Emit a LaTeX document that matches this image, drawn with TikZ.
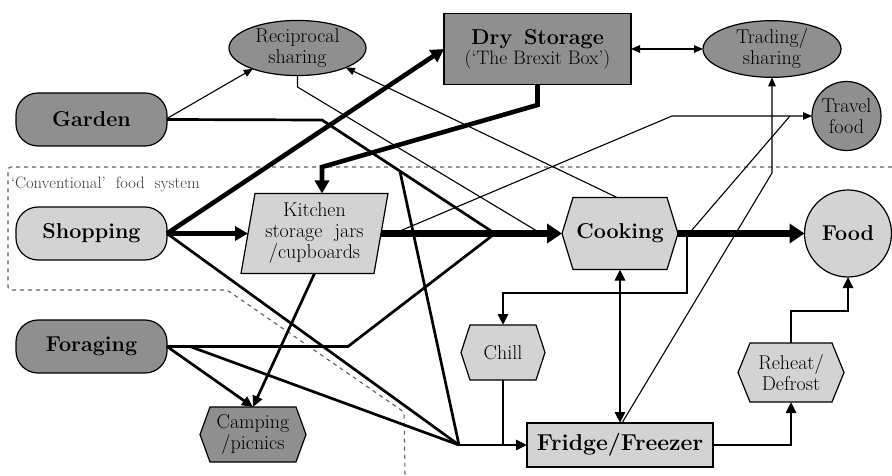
\documentclass[tikz,border=0pt]{standalone}
\usetikzlibrary{arrows.meta,shapes.geometric,backgrounds}
\definecolor{dk}{RGB}{143,143,143}
\definecolor{lt}{RGB}{211,211,211}
\definecolor{dashgrey}{RGB}{95,95,95}
\definecolor{labelgrey}{RGB}{60,60,60}
\newcommand\hexpoly[3]{\filldraw[fill=#2, draw=black, line width=1.2pt] (#1.west) -- ([xshift=#3]#1.north west) -- ([xshift=-#3]#1.north east) -- (#1.east) -- ([xshift=-#3]#1.south east) -- ([xshift=#3]#1.south west) -- cycle;}
\begin{document}
\begin{tikzpicture}[x=1pt,y=-1pt,
  every node/.style={outer sep=0pt, inner sep=0pt, text=black},
  bigtxt/.style={font=\fontsize{21.5}{24}\selectfont\bfseries, align=center},
  smtxt/.style={font=\fontsize{20}{21}\selectfont, align=center},
  rbox/.style={draw, line width=1.2pt, rounded corners=22pt, minimum width=151pt, minimum height=53pt, bigtxt},
  ell/.style={ellipse, draw, line width=1.2pt, fill=dk, smtxt},
  hexn/.style={smtxt},
  thinc/.style={line width=1.1pt},
  medc/.style={line width=2.7pt},
  thkc/.style={line width=4.6pt},
  vthk/.style={line width=7pt},
  ta/.style={-{Triangle[length=9pt,width=7.5pt]}},
  tab/.style={{Triangle[length=9pt,width=7.5pt]}-{Triangle[length=9pt,width=7.5pt]}},
  ma/.style={-{Triangle[length=11pt,width=10pt]}},
  mab/.style={{Triangle[length=11pt,width=10pt]}-{Triangle[length=11pt,width=10pt]}},
  ka/.style={-{Triangle[length=13pt,width=14pt]}},
  va/.style={-{Triangle[length=15pt,width=19pt]}}
]
\useasboundingbox (0,0) rectangle (892,476);

% boundary of the conventional food system
\draw[dashgrey, line width=1.1pt, dash pattern=on 4pt off 4pt, rounded corners=3pt]
  (892,167) -- (8,167) -- (8,290) -- (227,290) -- (404,412) -- (405,476);
\node[anchor=west, font=\fontsize{16.5}{18}\selectfont, text=labelgrey] (convlabel) at (11,184) {`Conventional'\ \ food\ \ system};

% nodes
\node[rbox, fill=dk] (garden) at (91.5,119.5) {Garden};
\node[rbox, fill=lt] (shop) at (91.5,233.5) {Shopping};
\node[rbox, fill=dk] (forage) at (91.5,346.5) {Foraging};
\node[ell, minimum width=137pt, minimum height=55pt] (recip) at (297.5,48) {Reciprocal\\sharing};
\node[draw, fill=dk, line width=1.2pt, minimum width=187pt, minimum height=71pt, align=center] (dry) at (537.5,49)
  {\fontsize{21.5}{26}\selectfont\bfseries Dry\, Storage\\\fontsize{19.5}{22}\selectfont\mdseries (`The Brexit Box')};
\node[ell, minimum width=138pt, minimum height=56pt] (trade) at (772,49) {Trading/\\sharing};
\node[circle, draw, fill=dk, line width=1.2pt, minimum size=69pt, font=\fontsize{20}{21}\selectfont, align=center] (travel) at (846.5,116) {Travel\\food};
\node[hexn, minimum width=133pt, minimum height=80pt] (kit) at (314.5,233.5) {Kitchen\\storage\ \ jars\\/cupboards};
\node[bigtxt, minimum width=116pt, minimum height=72pt] (cook) at (620,233.5) {Cooking};
\node[circle, draw, fill=lt, line width=1.2pt, minimum size=87pt, bigtxt] (food) at (848,233.5) {Food};
\node[hexn, minimum width=84pt, minimum height=55pt] (chill) at (503,352.5) {Chill};
\node[draw, fill=lt, line width=1.2pt, minimum width=186pt, minimum height=44pt, bigtxt, font=\fontsize{23}{25}\selectfont\bfseries] (fridge) at (620,445) {Fridge/Freezer};
\node[hexn, minimum width=106pt, minimum height=59pt] (reheat) at (791,372.5) {Reheat/\\Defrost};
\node[hexn, minimum width=106pt, minimum height=55pt] (camp) at (253,434.5) {Camping\\/picnics};

\begin{pgfonlayer}{background}
  \filldraw[fill=lt, draw=black, line width=1.2pt] ([xshift=-7pt]kit.south west) -- ([xshift=7pt]kit.north west) -- ([xshift=7pt]kit.north east) -- ([xshift=-7pt]kit.south east) -- cycle;
  \hexpoly{cook}{lt}{11pt}
  \hexpoly{chill}{lt}{9pt}
  \hexpoly{reheat}{lt}{12pt}
  \hexpoly{camp}{dk}{10pt}
\end{pgfonlayer}

% junctions and bends
\coordinate (gbend) at (322,120);
\coordinate (cmerge) at (495,233.5);
\coordinate (gsplit) at (400,171.5);
\coordinate (fjunc) at (459,445);
\coordinate (fbend) at (348,346.5);
\coordinate (fstart) at (190,346.5);
\coordinate (rbend) at (297.5,87);
\coordinate (rmerge) at (541,233.5);
\coordinate (dbend1) at (537.5,105);
\coordinate (dbend2) at (322,167);
\coordinate (kitdrop) at (322,193.5);
\coordinate (ktstart) at (394,233.5);
\coordinate (ktbend) at (672,116);
\coordinate (ctstart) at (689,233.5);
\coordinate (ctmerge) at (790,116);
\coordinate (ccstart) at (687,233.5);
\coordinate (ccbend1) at (687,293);
\coordinate (ccbend2) at (503,293);
\coordinate (ftbend) at (772,173);
\coordinate (chilljoin) at (503,445);
\coordinate (frbend) at (791,445);
\coordinate (rfbend1) at (791,311);
\coordinate (rfbend2) at (848,311);

% thin connectors
\draw[thinc, ta] ([yshift=1pt]garden.east) -- (recip.205);
\draw[thinc] (recip.south) -- (rbend) -- (rmerge);
\draw[thinc, ta] ([xshift=-3pt]cook.north) -- (recip.338);
\draw[thinc, tab] (dry.east) -- (trade.west);
\draw[thinc, ta] (ktstart) -- (ktbend) -- (travel.west);
\draw[thinc] (ctstart) -- (ctmerge);
\draw[thinc, ta] ([xshift=2pt]fridge.north) -- (ftbend) -- (trade.south);

% medium connectors
\draw[medc, line join=miter] (garden.east) -- (gbend) -- (cmerge);
\draw[medc] (gsplit) -- (fjunc);
\draw[medc] (forage.east) -- (fbend) -- (cmerge);
\draw[medc] (fstart) -- (fjunc);
\draw[medc] (shop.east) -- (fjunc);
\draw[medc, ma] (kit.south) -- (camp.north);
\draw[medc, ma] (forage.east) -- (camp.north);
\draw[medc, ma] (fjunc) -- (fridge.west);
\draw[medc] (chill.south) -- (chilljoin);
\draw[medc, ma] (ccstart) -- (ccbend1) -- (ccbend2) -- (chill.north);
\draw[medc, mab] (cook.south) -- (fridge.north);
\draw[medc, ma] (fridge.east) -- (frbend) -- (reheat.south);
\draw[medc, ma] (reheat.north) -- (rfbend1) -- (rfbend2) -- (food.south);

% thick connectors
\draw[thkc, ka] (shop.east) -- (dry.west);
\draw[thkc, ka] (shop.east) -- (kit.west);
\draw[thkc, ka] (dry.south) -- (dbend1) -- (dbend2) -- (kitdrop);

% very thick connectors
\draw[vthk, va] (kit.east) -- (cook.west);
\draw[vthk, va] (cook.east) -- (food.west);
\end{tikzpicture}
\end{document}
